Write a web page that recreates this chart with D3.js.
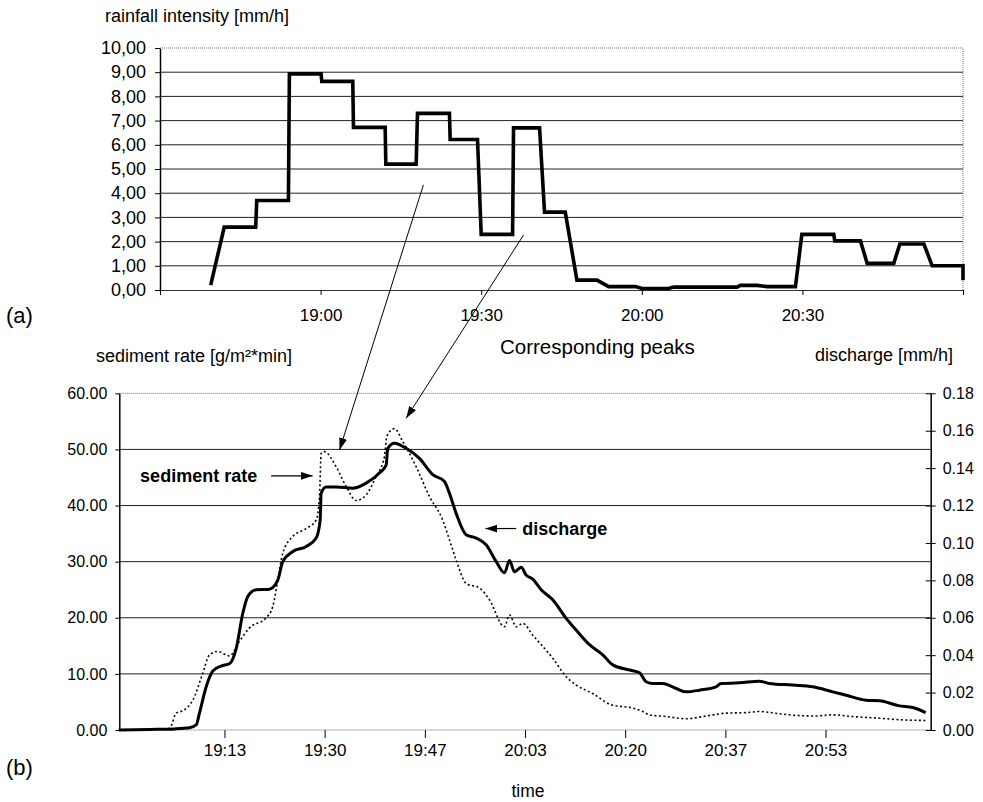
<!DOCTYPE html>
<html>
<head>
<meta charset="utf-8">
<script src="https://cdn.jsdelivr.net/npm/d3@7"></script>
<style>
  body { margin: 0; background: #fff; }
  text { font-family: "Liberation Sans", Arial, sans-serif; fill: #000; }
</style>
</head>
<body>
<div id="chart"></div>
<script>
// time is kept as minutes after 19:00 for both panels

// (a) rainfall intensity [mm/h], step line vertices
const rain = [
  [-20.53, 0.2], [-18.0, 2.6], [-12.12, 2.6], [-11.93, 3.7], [-6.01, 3.7], [-5.83, 8.93],
  [0.09, 8.93], [0.22, 8.62], [6.01, 8.62], [6.14, 6.72], [12.06, 6.72], [12.18, 5.2],
  [17.85, 5.2], [18.1, 7.3], [24.07, 7.3], [24.2, 6.22], [29.31, 6.22], [30.0, 2.3],
  [35.86, 2.3], [36.04, 6.7], [40.9, 6.7], [41.83, 3.22], [45.7, 3.22], [47.88, 0.41],
  [51.62, 0.41], [53.8, 0.14], [58.79, 0.14], [60.03, 0.06], [65.0, 0.06], [65.95, 0.12],
  [77.8, 0.12], [78.4, 0.19], [81.5, 0.19], [83.4, 0.14], [88.7, 0.14], [89.9, 2.3],
  [95.86, 2.3], [96.04, 2.03], [100.84, 2.03], [102.1, 1.1], [107.07, 1.1], [108.2, 1.9],
  [112.7, 1.9], [114.24, 1.0], [120, 1.0], [120, 0.4]
];
const rainTicks = [0, 1, 2, 3, 4, 5, 6, 7, 8, 9, 10];
const rainTimeTicks = [-30, 0, 30, 60, 90, 120];
const rainTimeLabels = ["", "19:00", "19:30", "20:00", "20:30", ""];

// (b) discharge [mm/h]
const discharge = [
  [-4.25, 0], [0.86, 0.0003], [5.02, 0.0006], [7.51, 0.0012], [8.63, 0.0027], [9.17, 0.009],
  [10.29, 0.0231], [11.39, 0.0315], [12.78, 0.0342], [14.17, 0.0354], [15.28, 0.0435],
  [16.38, 0.0624], [17.21, 0.0714], [18.61, 0.075], [20.82, 0.0753], [22.2, 0.0801],
  [23.03, 0.09], [24.7, 0.0954], [26.93, 0.0981], [28.59, 0.1026], [29.25, 0.1122],
  [29.42, 0.1266], [30.25, 0.1299], [31.92, 0.1299], [34.68, 0.1293], [36.91, 0.132],
  [39.12, 0.1374], [40.23, 0.1416], [40.5, 0.1506], [41.61, 0.1533], [43.56, 0.1506],
  [45.77, 0.1452], [47.99, 0.1365], [49.93, 0.1329], [50.76, 0.1266], [51.88, 0.1158],
  [53.54, 0.1044], [55.21, 0.1026], [56.87, 0.099], [58.54, 0.09], [59.92, 0.084],
  [60.75, 0.0906], [61.58, 0.0846], [62.69, 0.087], [63.53, 0.0828], [64.62, 0.0807],
  [66.02, 0.075], [67.95, 0.0696], [70.18, 0.0597], [71.85, 0.0534], [74.06, 0.0456],
  [76.27, 0.0402], [77.94, 0.0348], [80.71, 0.0321], [82.38, 0.0306], [83.49, 0.0258],
  [84.59, 0.0249], [86.25, 0.0249], [88.48, 0.0222], [90.15, 0.0204], [92.36, 0.0213],
  [95.13, 0.0231], [95.97, 0.0249], [99.01, 0.0252], [102.34, 0.0261], [104.0, 0.0249],
  [107.88, 0.024], [111.21, 0.0231], [114.53, 0.0204], [116.76, 0.0186], [120.09, 0.0159],
  [122.3, 0.0156], [125.63, 0.0129], [127.84, 0.012], [130.0, 0.0093]
];

// (b) sediment rate [g/m²*min]
const sediment = [
  [-4.25, 0], [0.86, 0.1], [4.18, 0.3], [5.3, 3.0], [6.68, 3.6], [8.06, 5.3], [9.72, 10.1],
  [10.84, 13.4], [12.22, 14.0], [14.17, 13.2], [15.83, 15.8], [17.49, 18.2], [20.27, 20.0],
  [21.37, 22.0], [22.2, 26.7], [23.03, 31.5], [24.7, 34.5], [26.93, 35.9], [28.59, 37.4],
  [29.14, 41.6], [29.42, 49.3], [29.97, 49.6], [31.92, 46.9], [33.58, 43.4], [35.24, 40.9],
  [36.91, 41.9], [38.57, 45.2], [39.95, 48.7], [40.33, 52.3], [41.61, 53.7], [43.0, 51.4],
  [45.23, 46.9], [47.44, 41.6], [49.65, 37.4], [50.76, 33.9], [51.88, 30.3], [53.54, 26.1],
  [55.76, 25.3], [57.42, 23.2], [59.91, 18.4], [60.75, 20.5], [61.86, 18.4], [62.96, 19.0],
  [64.62, 16.9], [66.29, 14.9], [67.95, 12.8], [70.18, 9.5], [71.85, 8.0], [74.6, 6.5],
  [77.66, 4.5], [81.26, 3.9], [82.92, 3.3], [84.04, 2.7], [86.81, 2.4], [90.15, 2.0],
  [93.47, 2.5], [96.8, 3.0], [100.12, 3.1], [102.34, 3.3], [105.67, 2.9], [108.45, 2.6],
  [111.77, 2.5], [114.53, 2.7], [117.86, 2.4], [122.3, 2.1], [126.18, 1.8], [130.0, 1.7]
];
const sedimentTicks = [0, 10, 20, 30, 40, 50, 60];
const dischargeTicks = [0, 0.02, 0.04, 0.06, 0.08, 0.10, 0.12, 0.14, 0.16, 0.18];
const timeTicks = [13.33, 30, 46.67, 63.33, 80, 96.67, 113.33];
const timeLabels = ["19:13", "19:30", "19:47", "20:03", "20:20", "20:37", "20:53"];

// arrows: "from" in panel (a) units, "to" in panel (b) sediment units
const peakArrows = [
  { from: [19.2, 4.34], to: [32.47, 49.9] },
  { from: [37.9, 2.27], to: [43.56, 55.55] }
];
const seriesLabels = [
  { text: "sediment rate", from: [21.1, 45.3], to: [28.0, 45.3], anchor: "end" },
  { text: "discharge", from: [61.86, 35.9], to: [56.76, 35.9], anchor: "start" }
];

var width = 983, height = 802;
var svg = d3.select("#chart").append("svg")
  .attr("width", width).attr("height", height);

svg.append("defs").append("marker")
  .attr("id", "head")
  .attr("markerUnits", "userSpaceOnUse")
  .attr("markerWidth", 13).attr("markerHeight", 9)
  .attr("refX", 12).attr("refY", 4)
  .attr("orient", "auto")
  .append("path").attr("d", "M0,0 L12,4 L0,8 Z").attr("fill", "#000");

// ---------- panel (a) ----------
var xTop = d3.scaleLinear().domain([-30, 120]).range([160, 963]),
    yTop = d3.scaleLinear().domain([0, 10]).range([290, 48]);

var gA = svg.append("g");

gA.selectAll(".grid").data(rainTicks.slice(1, -1)).enter().append("line")
  .attr("x1", xTop(-30)).attr("x2", xTop(120))
  .attr("y1", d => yTop(d)).attr("y2", d => yTop(d))
  .attr("stroke", "#222").attr("stroke-width", 1);

// dotted frame top and right
gA.append("path")
  .attr("d", "M" + xTop(-30) + "," + yTop(10) + "H" + xTop(120) + "V" + yTop(0))
  .attr("fill", "none").attr("stroke", "#777").attr("stroke-dasharray", "1,1");

var axA = gA.append("g").attr("transform", "translate(0," + yTop(0) + ")")
  .call(d3.axisBottom(xTop).tickValues(rainTimeTicks).tickSize(5).tickSizeOuter(0)
    .tickPadding(14).tickFormat((d, i) => rainTimeLabels[i]));
axA.select(".domain").attr("stroke", "#333");
axA.selectAll("text").attr("font-size", 17).attr("font-family", "Liberation Sans, Arial, sans-serif");

var ayA = gA.append("g").attr("transform", "translate(" + xTop(-30) + ",0)")
  .call(d3.axisLeft(yTop).tickValues(rainTicks).tickSize(5).tickSizeOuter(0).tickPadding(9)
    .tickFormat(d => d3.format(".2f")(d).replace(".", ",")));
ayA.select(".domain").attr("stroke", "#000").attr("stroke-width", 1.5);
ayA.selectAll("text").attr("font-size", 18).attr("font-family", "Liberation Sans, Arial, sans-serif");

gA.append("path").datum(rain)
  .attr("fill", "none").attr("stroke", "#000").attr("stroke-width", 3.6)
  .attr("stroke-linejoin", "miter")
  .attr("d", d3.line().x(d => xTop(d[0])).y(d => yTop(d[1])));

svg.append("text").attr("x", 105).attr("y", 22).attr("font-size", 18)
  .text("rainfall intensity [mm/h]");
svg.append("text").attr("x", 6).attr("y", 323).attr("font-size", 22).text("(a)");

// ---------- panel (b) ----------
var xBot = d3.scaleLinear().domain([-4.1667, 130.8333]).range([119.3, 930.7]),
    ySed = d3.scaleLinear().domain([0, 60]).range([730, 393.3]),
    yDis = d3.scaleLinear().domain([0, 0.18]).range([730, 393.3]);

var gB = svg.append("g");

gB.selectAll(".grid").data(sedimentTicks.slice(1, -1)).enter().append("line")
  .attr("x1", xBot.range()[0]).attr("x2", xBot.range()[1])
  .attr("y1", d => ySed(d)).attr("y2", d => ySed(d))
  .attr("stroke", "#222").attr("stroke-width", 1);

gB.selectAll(".frame").data([0, 60]).enter().append("line")
  .attr("x1", xBot.range()[0]).attr("x2", xBot.range()[1])
  .attr("y1", d => ySed(d)).attr("y2", d => ySed(d))
  .attr("stroke", "#666").attr("stroke-dasharray", "1,1");

var axB = gB.append("g").attr("transform", "translate(0," + ySed(0) + ")")
  .call(d3.axisBottom(xBot).tickValues(timeTicks).tickSize(8).tickSizeOuter(0)
    .tickPadding(6).tickFormat((d, i) => timeLabels[i]));
axB.select(".domain").remove();
axB.selectAll("text").attr("font-size", 17).attr("font-family", "Liberation Sans, Arial, sans-serif");

var ayB = gB.append("g").attr("transform", "translate(" + xBot.range()[0] + ",0)")
  .call(d3.axisLeft(ySed).tickValues(sedimentTicks).tickSize(4).tickSizeOuter(0).tickPadding(8)
    .tickFormat(d3.format(".2f")));
ayB.select(".domain").attr("stroke", "#000").attr("stroke-width", 1.5);
ayB.selectAll("text").attr("font-size", 16).attr("font-family", "Liberation Sans, Arial, sans-serif");

var ayB2 = gB.append("g").attr("transform", "translate(" + xBot.range()[1] + ",0)")
  .call(d3.axisRight(yDis).tickValues(dischargeTicks).tickSize(5).tickSizeOuter(0).tickPadding(7)
    .tickFormat(d3.format(".2f")));
ayB2.select(".domain").attr("stroke", "#000").attr("stroke-width", 1.5);
ayB2.selectAll(".tick line").attr("x1", -5);
ayB2.selectAll("text").attr("font-size", 16).attr("font-family", "Liberation Sans, Arial, sans-serif");

gB.append("path").datum(sediment)
  .attr("fill", "none").attr("stroke", "#000").attr("stroke-width", 1.6)
  .attr("stroke-dasharray", "2,2.5")
  .attr("d", d3.line().curve(d3.curveMonotoneX).x(d => xBot(d[0])).y(d => ySed(d[1])));

gB.append("path").datum(discharge)
  .attr("fill", "none").attr("stroke", "#000").attr("stroke-width", 3)
  .attr("stroke-linejoin", "round")
  .attr("d", d3.line().curve(d3.curveMonotoneX).x(d => xBot(d[0])).y(d => yDis(d[1])));

// series labels with small arrows
seriesLabels.forEach(function (s) {
  gB.append("line")
    .attr("x1", xBot(s.from[0])).attr("y1", ySed(s.from[1]))
    .attr("x2", xBot(s.to[0])).attr("y2", ySed(s.to[1]))
    .attr("stroke", "#000").attr("stroke-width", 1.2).attr("marker-end", "url(#head)");
  gB.append("text")
    .attr("x", xBot(s.from[0]) + (s.anchor == "end" ? -14 : 6))
    .attr("y", ySed(s.from[1]) + 6)
    .attr("text-anchor", s.anchor).attr("font-size", 18).attr("font-weight", "bold")
    .text(s.text);
});

// corresponding peaks arrows, from panel (a) into panel (b)
peakArrows.forEach(function (a) {
  svg.append("line")
    .attr("x1", xTop(a.from[0])).attr("y1", yTop(a.from[1]))
    .attr("x2", xBot(a.to[0])).attr("y2", ySed(a.to[1]))
    .attr("stroke", "#000").attr("stroke-width", 1).attr("marker-end", "url(#head)");
});

svg.append("text").attr("x", 96).attr("y", 362).attr("font-size", 18)
  .text("sediment rate [g/m²*min]");
svg.append("text").attr("x", 500).attr("y", 354).attr("font-size", 20.5)
  .text("Corresponding peaks");
svg.append("text").attr("x", 815).attr("y", 361).attr("font-size", 18)
  .text("discharge [mm/h]");
svg.append("text").attr("x", 6).attr("y", 775).attr("font-size", 22).text("(b)");
svg.append("text").attr("x", 528).attr("y", 797).attr("font-size", 17.5)
  .attr("text-anchor", "middle").text("time");
</script>
</body>
</html>
